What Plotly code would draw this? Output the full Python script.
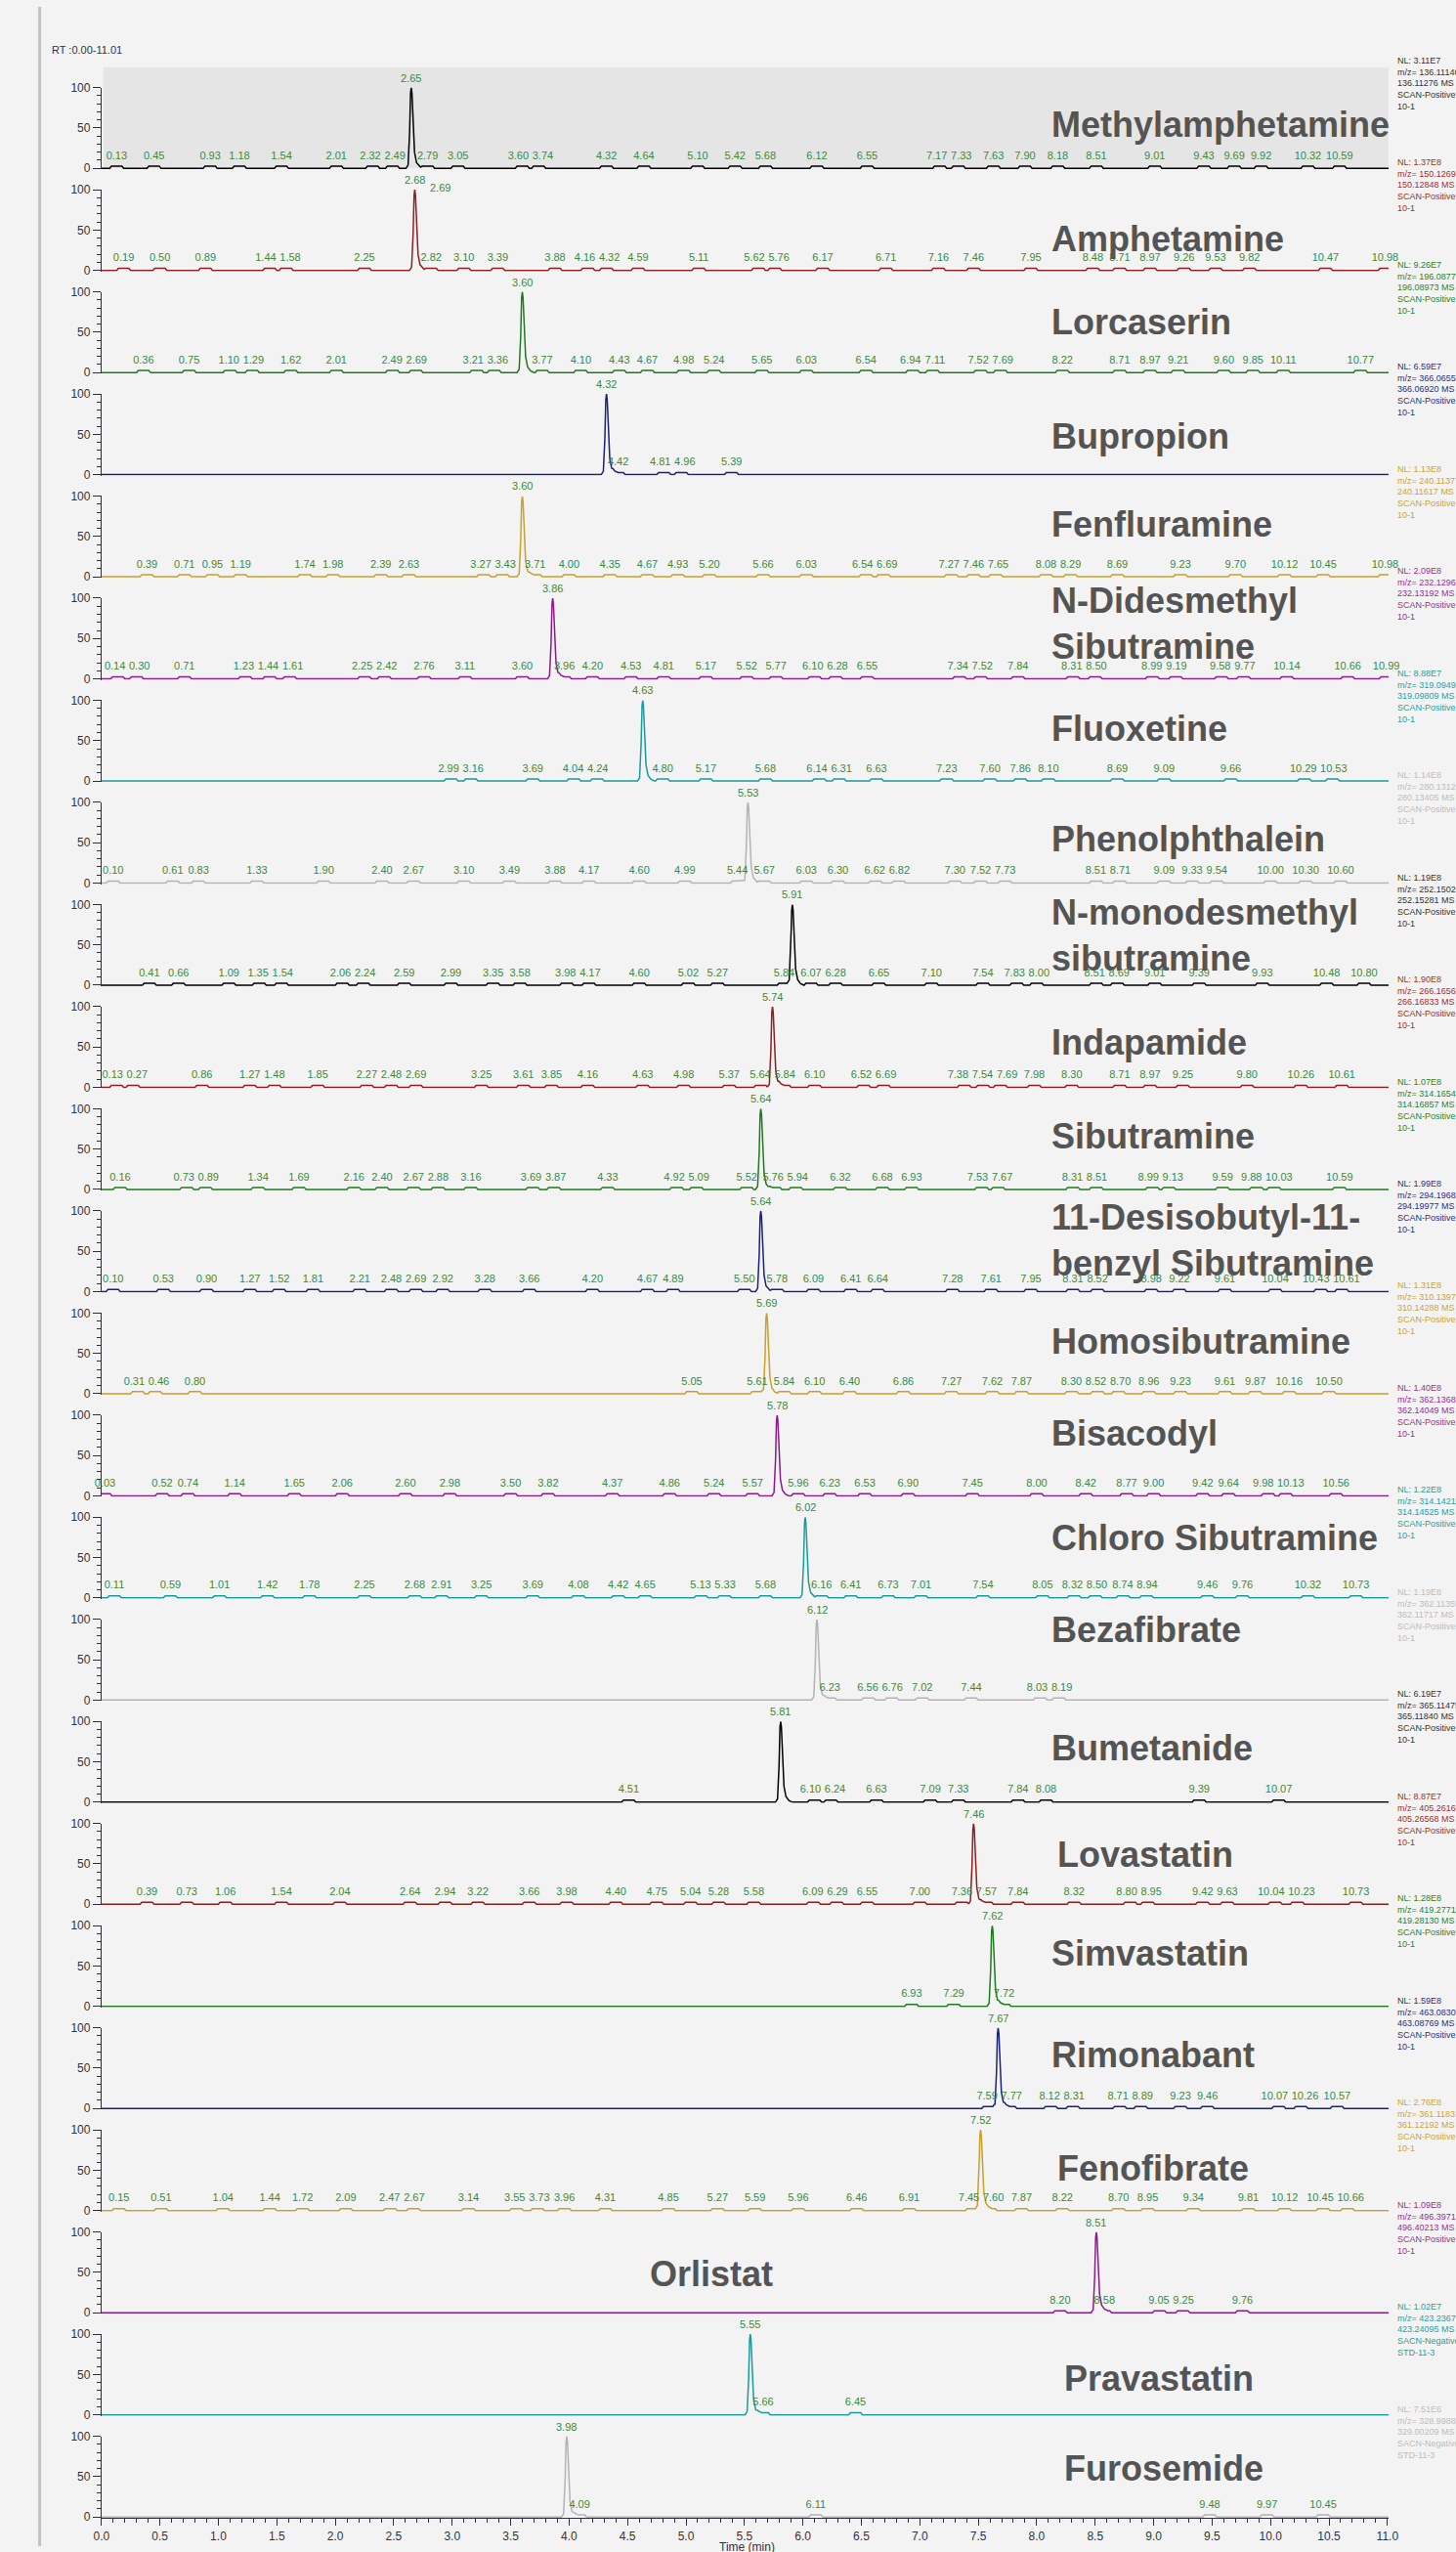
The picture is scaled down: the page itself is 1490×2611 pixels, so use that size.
import numpy as np
import plotly.graph_objects as go

# ---------------------------------------------------------------- data
compounds = [
    "Methylamphetamine", "Amphetamine", "Lorcaserin", "Bupropion", "Fenfluramine",
    "N-Didesmethyl<br>Sibutramine", "Fluoxetine", "Phenolphthalein",
    "N-monodesmethyl<br>sibutramine", "Indapamide", "Sibutramine",
    "11-Desisobutyl-11-<br>benzyl Sibutramine", "Homosibutramine", "Bisacodyl",
    "Chloro Sibutramine", "Bezafibrate", "Bumetanide", "Lovastatin", "Simvastatin",
    "Rimonabant", "Fenofibrate", "Orlistat", "Pravastatin", "Furosemide",
]

main_rt = [2.65, 2.68, 3.60, 4.32, 3.60, 3.86, 4.63, 5.53, 5.91, 5.74, 5.64, 5.64,
           5.69, 5.78, 6.02, 6.12, 5.81, 7.46, 7.62, 7.67, 7.52, 8.51, 5.55, 3.98]

minor_rt = [
    [0.13, 0.45, 0.93, 1.18, 1.54, 2.01, 2.32, 2.49, 2.79, 3.05, 3.60, 3.74, 4.32, 4.64,
     5.10, 5.42, 5.68, 6.12, 6.55, 7.17, 7.33, 7.63, 7.90, 8.18, 8.51, 9.01, 9.43, 9.69,
     9.92, 10.32, 10.59],
    [0.19, 0.50, 0.89, 1.44, 1.58, 2.25, 2.82, 3.10, 3.39, 3.88, 4.16, 4.32, 4.59, 5.11,
     5.62, 5.76, 6.17, 6.71, 7.16, 7.46, 7.95, 8.48, 8.71, 8.97, 9.26, 9.53, 9.82, 10.47,
     10.98],
    [0.36, 0.75, 1.10, 1.29, 1.62, 2.01, 2.49, 2.69, 3.21, 3.36, 3.77, 4.10, 4.43, 4.67,
     4.98, 5.24, 5.65, 6.03, 6.54, 6.94, 7.11, 7.52, 7.69, 8.22, 8.71, 8.97, 9.21, 9.60,
     9.85, 10.11, 10.77],
    [4.42, 4.81, 4.96, 5.39],
    [0.39, 0.71, 0.95, 1.19, 1.74, 1.98, 2.39, 2.63, 3.27, 3.43, 3.71, 4.00, 4.35, 4.67,
     4.93, 5.20, 5.66, 6.03, 6.54, 6.69, 7.27, 7.46, 7.65, 8.08, 8.29, 8.69, 9.23, 9.70,
     10.12, 10.45, 10.98],
    [0.14, 0.30, 0.71, 1.23, 1.44, 1.61, 2.25, 2.42, 2.76, 3.11, 3.60, 3.96, 4.20, 4.53,
     4.81, 5.17, 5.52, 5.77, 6.10, 6.28, 6.55, 7.34, 7.52, 7.84, 8.31, 8.50, 8.99, 9.19,
     9.58, 9.77, 10.14, 10.66, 10.99],
    [2.99, 3.16, 3.69, 4.04, 4.24, 4.80, 5.17, 5.68, 6.14, 6.31, 6.63, 7.23, 7.60, 7.86,
     8.10, 8.69, 9.09, 9.66, 10.29, 10.53],
    [0.10, 0.61, 0.83, 1.33, 1.90, 2.40, 2.67, 3.10, 3.49, 3.88, 4.17, 4.60, 4.99, 5.44,
     5.67, 6.03, 6.30, 6.62, 6.82, 7.30, 7.52, 7.73, 8.51, 8.71, 9.09, 9.33, 9.54, 10.00,
     10.30, 10.60],
    [0.41, 0.66, 1.09, 1.35, 1.54, 2.06, 2.24, 2.59, 2.99, 3.35, 3.58, 3.98, 4.17, 4.60,
     5.02, 5.27, 5.84, 6.07, 6.28, 6.65, 7.10, 7.54, 7.83, 8.00, 8.51, 8.69, 9.01, 9.39,
     9.93, 10.48, 10.80],
    [0.13, 0.27, 0.86, 1.27, 1.48, 1.85, 2.27, 2.48, 2.69, 3.25, 3.61, 3.85, 4.16, 4.63,
     4.98, 5.37, 5.64, 5.84, 6.10, 6.52, 6.69, 7.38, 7.54, 7.69, 7.98, 8.30, 8.71, 8.97,
     9.25, 9.80, 10.26, 10.61],
    [0.16, 0.73, 0.89, 1.34, 1.69, 2.16, 2.40, 2.67, 2.88, 3.16, 3.69, 3.87, 4.33, 4.92,
     5.09, 5.52, 5.76, 5.94, 6.32, 6.68, 6.93, 7.53, 7.67, 8.31, 8.51, 8.99, 9.13, 9.59,
     9.88, 10.03, 10.59],
    [0.10, 0.53, 0.90, 1.27, 1.52, 1.81, 2.21, 2.48, 2.69, 2.92, 3.28, 3.66, 4.20, 4.67,
     4.89, 5.50, 5.78, 6.09, 6.41, 6.64, 7.28, 7.61, 7.95, 8.31, 8.52, 8.98, 9.22, 9.61,
     10.04, 10.43, 10.61],
    [0.31, 0.46, 0.80, 5.05, 5.61, 5.84, 6.10, 6.40, 6.86, 7.27, 7.62, 7.87, 8.30, 8.52,
     8.70, 8.96, 9.23, 9.61, 9.87, 10.16, 10.50],
    [0.03, 0.52, 0.74, 1.14, 1.65, 2.06, 2.60, 2.98, 3.50, 3.82, 4.37, 4.86, 5.24, 5.57,
     5.96, 6.23, 6.53, 6.90, 7.45, 8.00, 8.42, 8.77, 9.00, 9.42, 9.64, 9.98, 10.13, 10.56],
    [0.11, 0.59, 1.01, 1.42, 1.78, 2.25, 2.68, 2.91, 3.25, 3.69, 4.08, 4.42, 4.65, 5.13,
     5.33, 5.68, 6.16, 6.41, 6.73, 7.01, 7.54, 8.05, 8.32, 8.50, 8.74, 8.94, 9.46, 9.76,
     10.32, 10.73],
    [6.23, 6.56, 6.76, 7.02, 7.44, 8.03, 8.19],
    [4.51, 6.10, 6.24, 6.63, 7.09, 7.33, 7.84, 8.08, 9.39, 10.07],
    [0.39, 0.73, 1.06, 1.54, 2.04, 2.64, 2.94, 3.22, 3.66, 3.98, 4.40, 4.75, 5.04, 5.28,
     5.58, 6.09, 6.29, 6.55, 7.00, 7.36, 7.57, 7.84, 8.32, 8.80, 8.95, 9.42, 9.63, 10.04,
     10.23, 10.73],
    [6.93, 7.29, 7.72],
    [7.59, 7.77, 8.12, 8.31, 8.71, 8.89, 9.23, 9.46, 10.07, 10.26, 10.57],
    [0.15, 0.51, 1.04, 1.44, 1.72, 2.09, 2.47, 2.67, 3.14, 3.55, 3.73, 3.96, 4.31, 4.85,
     5.27, 5.59, 5.96, 6.46, 6.91, 7.45, 7.60, 7.87, 8.22, 8.70, 8.95, 9.34, 9.81, 10.12,
     10.45, 10.66],
    [8.20, 8.58, 9.05, 9.25, 9.76],
    [5.66, 6.45],
    [4.09, 6.11, 9.48, 9.97, 10.45],
]

# second apex label next to the Amphetamine maximum
side_label_panel = 1
side_label_rt = 2.69
side_label_level = 93

nl_values = ["3.11E7", "1.37E8", "9.26E7", "6.59E7", "1.13E8", "2.09E8", "8.88E7",
             "1.14E8", "1.19E8", "1.90E8", "1.07E8", "1.99E8", "1.31E8", "1.40E8",
             "1.22E8", "1.19E8", "6.19E7", "8.87E7", "1.28E8", "1.59E8", "2.76E8",
             "1.09E8", "1.02E7", "7.51E6"]

exact_mz = [136.11276, 150.12848, 196.08973, 366.06920, 240.11617, 232.13192, 319.09809,
            280.13405, 252.15281, 266.16833, 314.16857, 294.19977, 310.14288, 362.14049,
            314.14525, 362.11717, 365.11840, 405.26568, 419.28130, 463.08769, 361.12192,
            496.40213, 423.24095, 329.00209]

scan_filter = ["SCAN-Positive"] * 22 + ["SACN-Negative"] * 2
sample_tag = ["10-1"] * 22 + ["STD-11-3"] * 2

x_ticks_step = 0.5
rt_end = 11.01

# ---------------------------------------------------------------- geometry / style
FIG_W, FIG_H = 1490, 2611
X_LEFT = 97            # px position of RT 0.0
PX_PER_MIN = 121.1
FIRST_BASE = 166       # px of the 0 % line of the first trace
PITCH = 105            # px between stacked traces
PX_PER_PCT = 0.83
Y_PAD = 1.2

trace_colors = ["#000000", "#8e1f1f", "#1f7a1f", "#1b207a",
                "#c9a02a", "#8b1a8b", "#1a9a9a", "#b3b3b3"]
nl_colors = ["#333333", "#9b3030", "#2d822d", "#2b2f80",
             "#c9a53d", "#963096", "#2aa0a0", "#bdbdbd"]
label_green = "#3a8a3a"
title_gray = "#545454"
axis_col = "#2e2e3c"
FONT = "Liberation Sans, Arial, sans-serif"
LABEL_SIZE = 11

title_lift = [45, 32, 52, 39, 54, 57, 54, 45, 51, 46, 55, 53,
              54, 64, 62, 72, 56, 51, 55, 55, 43, 40, 37, 50]
title_left = [1079] * 17 + [1085, 1079, 1079, 1085, 663, 1092, 1092]

# peak shape templates (offset in min, relative intensity)
MAIN_OFF = np.array([-0.045, -0.027, -0.014, -0.006, 0.0, 0.006, 0.016, 0.028, 0.045, 0.07, 0.1])
MAIN_REL = np.array([0.0, 0.04, 0.45, 0.93, 1.0, 0.93, 0.55, 0.2, 0.07, 0.02, 0.0])
MINOR_OFF = np.array([-0.06, -0.045, 0.045, 0.06])
MINOR_REL = np.array([0.0, 1.0, 1.0, 0.0])
MINOR_LEVEL = 2.5
MINOR_TEXT_LIFT = 5.5   # % units between bump top and label


def chromatogram(apex, minors):
    pieces = [np.array([0.0, rt_end]), apex + MAIN_OFF]
    pieces += [rt + MINOR_OFF for rt in minors]
    grid = np.unique(np.clip(np.concatenate(pieces), 0.0, rt_end))
    y = 100.0 * np.interp(grid, apex + MAIN_OFF, MAIN_REL, left=0, right=0)
    for rt in minors:
        y += MINOR_LEVEL * np.interp(grid, rt + MINOR_OFF, MINOR_REL, left=0, right=0)
    return grid, y


def spread_labels(rts, gap_px=4.0):
    """Nudge neighbouring baseline labels apart so their text does not collide."""
    if not rts:
        return []
    pos = np.array(rts, dtype=float) * PX_PER_MIN
    width = np.array([len(f"{v:.2f}") * 0.556 * LABEL_SIZE - 0.278 * LABEL_SIZE
                      for v in rts])
    for _ in range(200):
        moved = False
        for j in range(len(pos) - 1):
            need = (width[j] + width[j + 1]) / 2 + gap_px
            d = pos[j + 1] - pos[j]
            if d < need - 1e-6:
                push = (need - d) / 2
                pos[j] -= push
                pos[j + 1] += push
                moved = True
        if not moved:
            break
    return list(pos / PX_PER_MIN)


def py(px):
    return 1 - px / FIG_H


def pxx(px):
    return px / FIG_W


fig = go.Figure()
layout = {}
annotations = []
n = len(compounds)
x_dom = [pxx(X_LEFT), pxx(X_LEFT + PX_PER_MIN * rt_end)]

for i in range(n):
    sfx = "" if i == 0 else str(i + 1)
    base = FIRST_BASE + PITCH * i
    col = trace_colors[i % 8]

    gx, gy = chromatogram(main_rt[i], minor_rt[i])
    fig.add_trace(go.Scatter(
        x=gx, y=gy, mode="lines", line=dict(color=col, width=1.5),
        xaxis="x" + sfx, yaxis="y" + sfx, cliponaxis=False, hoverinfo="skip",
        showlegend=False))

    minors = sorted(minor_rt[i])
    fig.add_trace(go.Scatter(
        x=spread_labels(minors), y=[MINOR_LEVEL + MINOR_TEXT_LIFT] * len(minors),
        mode="text", text=[f"{v:.2f}" for v in minors],
        textposition="top center",
        textfont=dict(family=FONT, size=LABEL_SIZE, color=label_green),
        xaxis="x" + sfx, yaxis="y" + sfx, cliponaxis=False, hoverinfo="skip",
        showlegend=False))

    # apex retention-time label
    annotations.append(dict(
        text=f"{main_rt[i]:.2f}", xref="x" + sfx, yref="y" + sfx,
        x=main_rt[i], y=100, xanchor="center", yanchor="bottom", yshift=2,
        showarrow=False, font=dict(family=FONT, size=LABEL_SIZE, color=label_green)))

    bottom = i == n - 1
    layout["xaxis" + sfx] = dict(
        domain=x_dom, range=[0, rt_end], anchor="y" + sfx,
        visible=bottom, showgrid=False, zeroline=False,
        showline=bottom, linecolor=axis_col, linewidth=1,
        ticks="outside" if bottom else "", ticklen=7, tickcolor=axis_col,
        tick0=0, dtick=x_ticks_step, tickformat=".1f",
        tickfont=dict(family=FONT, size=12, color="#333333"),
        minor=dict(ticks="outside", ticklen=4, dtick=0.1, tickcolor=axis_col) if bottom else None,
    )
    layout["yaxis" + sfx] = dict(
        domain=[py(base + Y_PAD * PX_PER_PCT), py(base - 100.01 * PX_PER_PCT)],
        range=[-Y_PAD, 100.01], anchor="x" + sfx,
        showgrid=False, zeroline=False, showline=True, linecolor=axis_col, linewidth=1,
        ticks="outside", ticklen=8, tickcolor=axis_col, tick0=0, dtick=50,
        tickfont=dict(family=FONT, size=12, color="#333333"),
        minor=dict(ticks="outside", ticklen=4, dtick=10, tickcolor=axis_col),
    )

    # compound name
    annotations.append(dict(
        text=compounds[i], xref="paper", yref="paper",
        x=pxx(title_left[i]), y=py(base - title_lift[i]),
        xanchor="left", yanchor="middle", align="left", showarrow=False,
        font=dict(family=FONT, size=36, color=title_gray, weight="bold")))

    # scan information block
    mz = exact_mz[i]
    info = "<br>".join([
        f"NL: {nl_values[i]}",
        f"m/z= {mz * (1 - 1e-5):.5f}-{mz * (1 + 1e-5):.5f}",
        f"{mz:.5f} MS ICIS",
        scan_filter[i],
        sample_tag[i],
    ])
    annotations.append(dict(
        text=info, xref="paper", yref="paper", x=pxx(1437), y=py(base - 118),
        xanchor="left", yanchor="top", align="left", showarrow=False,
        font=dict(family=FONT, size=9, color=nl_colors[i % 8])))

# extra apex label beside the Amphetamine maximum
sp = "" if side_label_panel == 0 else str(side_label_panel + 1)
annotations.append(dict(
    text=f"{side_label_rt:.2f}", xref="x" + sp, yref="y" + sp,
    x=main_rt[side_label_panel], y=side_label_level, xanchor="left", yanchor="bottom",
    xshift=14, showarrow=False,
    font=dict(family=FONT, size=LABEL_SIZE, color=label_green)))

annotations.append(dict(
    text="RT :0.00-11.01", xref="paper", yref="paper", x=pxx(44), y=py(44),
    xanchor="left", yanchor="middle", showarrow=False,
    font=dict(family=FONT, size=11, color="#333333")))
annotations.append(dict(
    text="Time (min)", xref="paper", yref="paper", x=pxx(766), y=py(2603),
    xanchor="center", yanchor="top", showarrow=False,
    font=dict(family=FONT, size=12, color="#333333")))

shapes = [
    # highlighted first trace pane
    dict(type="rect", xref="paper", yref="paper", layer="below",
         x0=pxx(99), x1=pxx(1430), y0=py(FIRST_BASE), y1=py(62),
         fillcolor="#e5e5e5", line=dict(width=0)),
    # left frame rule
    dict(type="line", xref="paper", yref="paper", x0=pxx(33), x1=pxx(33), y0=0, y1=1,
         line=dict(color="#c2c2c2", width=3)),
]

layout.update(
    width=FIG_W, height=FIG_H, margin=dict(l=0, r=0, t=0, b=0),
    paper_bgcolor="#f3f3f3", plot_bgcolor="rgba(0,0,0,0)",
    showlegend=False, annotations=annotations, shapes=shapes,
    font=dict(family=FONT),
)
fig.update_layout(**layout)
fig.write_html("out.html")
